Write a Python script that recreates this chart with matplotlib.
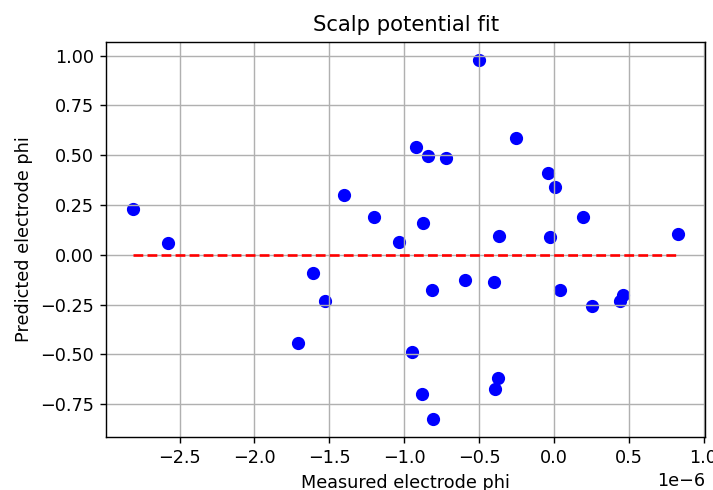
import matplotlib
matplotlib.use("Agg")
import matplotlib.pyplot as plt
import numpy as np

measured = np.array([-2.81, -2.58, -1.40, -1.20, -1.033, -0.92, -0.497, -0.842, -0.722,
                     -0.253, -0.038, 0.007, 0.192, -0.871, -0.368, -0.027, 0.83,
                     -1.61, -1.531, -1.71, -0.817, -0.591, -0.401, 0.043, 0.253,
                     0.44, 0.46, -0.946, -0.878, -0.804, -0.375, -0.391]) * 1e-6
predicted = np.array([0.23, 0.057, 0.30, 0.19, 0.063, 0.543, 0.98, 0.495, 0.488,
                      0.585, 0.41, 0.34, 0.19, 0.16, 0.097, 0.09, 0.105,
                      -0.09, -0.23, -0.443, -0.178, -0.126, -0.137, -0.178, -0.257,
                      -0.232, -0.20, -0.49, -0.70, -0.823, -0.617, -0.675])

dpi = 127
fig = plt.figure(figsize=(713 / dpi, 490 / dpi), dpi=dpi)
ax = fig.add_axes([106 / 713, 1 - 436.7 / 490, (705.3 - 106) / 713, (436.7 - 41.7) / 490])
ax.scatter(measured, predicted, color="blue", s=42)
ax.plot([measured.min(), measured.max()], [0, 0], "r--")
ax.set_title("Scalp potential fit")
ax.set_xlabel("Measured electrode phi")
ax.set_ylabel("Predicted electrode phi")
ax.grid(True)
fig.savefig("out.png", dpi=dpi)
